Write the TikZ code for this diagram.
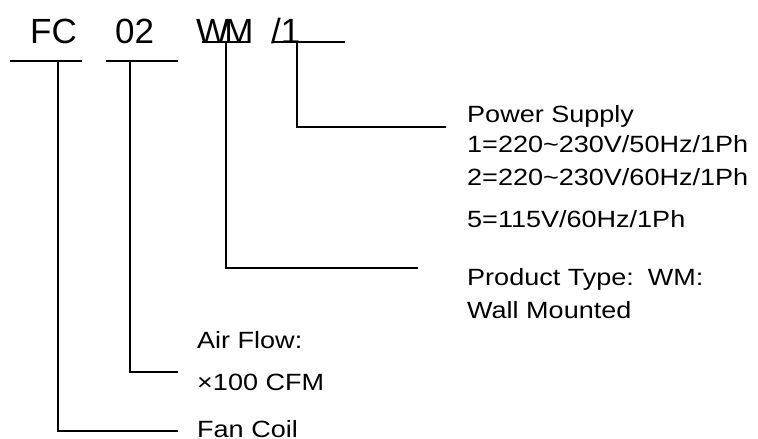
\documentclass[tikz,border=0pt]{standalone}
\usepackage{fontspec}
\setmainfont{Liberation Sans}
\newfontfamily\widefont[FakeStretch=1.15]{Liberation Sans}
\usepackage{tikz}
\tikzstyle{code}=[anchor=base west, inner sep=0pt, font=\fontsize{35}{40}\selectfont]
\tikzstyle{caption}=[anchor=base west, inner sep=0pt, font=\widefont\fontsize{23.5}{28}\selectfont]
\tikzstyle{bar}=[line width=1.6pt]
\tikzstyle{lead}=[line width=1.6pt]

\begin{document}
\begin{tikzpicture}[x=1pt, y=-1pt]
        \useasboundingbox (0,0) rectangle (758,439);
        \node[code] (fc) at (30, 43) {FC};
        \node[code] (num) at (115, 43) {02};
        \node[code] (wm) at (196, 43) {W\kern-5pt M};
        \node[code] (ph) at (271, 43) {/1};
        \node[caption] (ps0) at (467, 122) {Power Supply};
        \node[caption] (ps1) at (467, 152) {1=220\textasciitilde230V/50Hz/1Ph};
        \node[caption] (ps2) at (467, 185) {2=220\textasciitilde230V/60Hz/1Ph};
        \node[caption] (ps3) at (467, 227) {5=115V/60Hz/1Ph};
        \node[caption] (pt0) at (467, 285) {Product Type:\hspace{4pt} WM:};
        \node[caption] (pt1) at (467, 318) {Wall Mounted};
        \node[caption] (af0) at (197, 348) {Air Flow:};
        \node[caption] (af1) at (197, 390) {×100 CFM};
        \node[caption] (fan) at (197, 437) {Fan Coil};
        \coordinate (fctap) at (58, 61);
        \coordinate (numtap) at (130, 61);
        \coordinate (wmtap) at (226, 42);
        \coordinate (phtap) at (297, 42);
        \coordinate (fcend) at (178, 431);
        \coordinate (numend) at (178, 372);
        \coordinate (wmend) at (418, 268);
        \coordinate (phend) at (446, 127);
        \draw[bar] (fctap) ++(-48, 0) -- ++(72, 0);
        \draw[bar] (numtap) ++(-24, 0) -- ++(72, 0);
        \draw[bar] (wmtap) ++(-24, 0) -- ++(46, 0);
        \draw[bar] (phtap) ++(-24, 0) -- ++(72, 0);
        \draw[lead] (fctap) |- (fcend);
        \draw[lead] (numtap) |- (numend);
        \draw[lead] (wmtap) |- (wmend);
        \draw[lead] (phtap) |- (phend);
    \end{tikzpicture}
\end{document}
